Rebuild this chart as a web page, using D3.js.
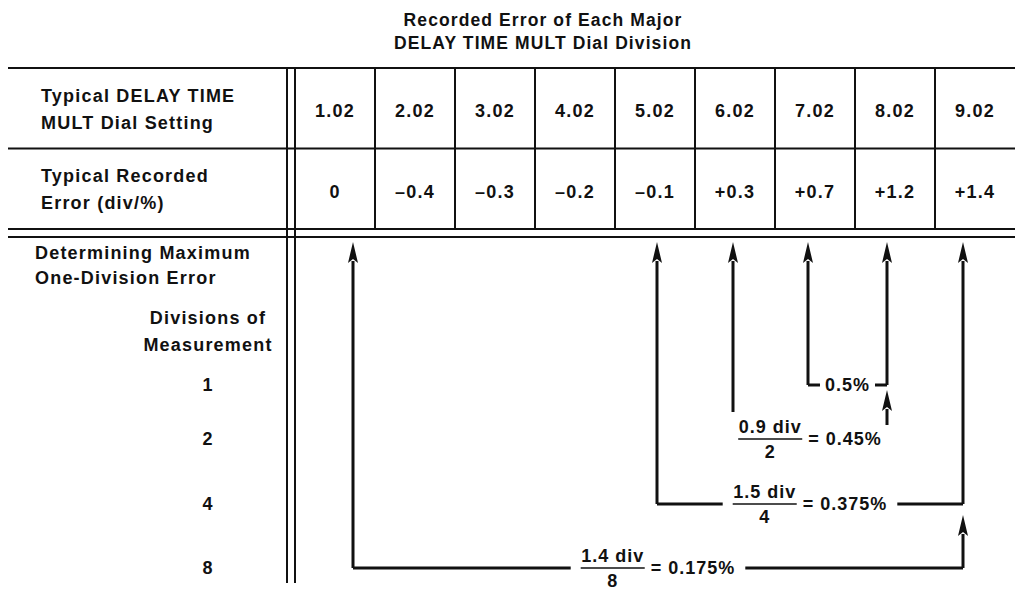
<!DOCTYPE html>
<html lang="en">
<head>
<meta charset="UTF-8">
<title>Recorded Error of Each Major DELAY TIME MULT Dial Division</title>
<style>
    body {
        margin: 0;
        background: #fff;
    }
    svg {
        display: block;
        font-family: "Liberation Sans", Arial, sans-serif;
        font-weight: bold;
    }
    text {
        fill: #111;
    }
    .title {
        font-size: 17.5px;
        letter-spacing: 1.1px;
    }
    .label {
        font-size: 18px;
        letter-spacing: 1.2px;
    }
    .cell {
        font-size: 18px;
        letter-spacing: 1.2px;
    }
    .note {
        font-size: 18px;
        letter-spacing: 1px;
    }
    .rule {
        stroke: #111;
        stroke-width: 2;
    }
    .shaft {
        stroke: #111;
        stroke-width: 3;
        fill: none;
    }
    .head {
        fill: #111;
    }
</style>
<script src="https://d3js.org/d3.v7.min.js"></script>
</head>
<body>
<svg id="chart" width="1017" height="593"></svg>
<script>
    const titleLines = ["Recorded Error of Each Major", "DELAY TIME MULT Dial Division"];
    const rowLabels = [
        ["Typical DELAY TIME", "MULT Dial Setting"],
        ["Typical Recorded", "Error (div/%)"]
    ];
    const sectionLabel = ["Determining Maximum", "One-Division Error"];
    const divisionsLabel = ["Divisions of", "Measurement"];

    const dialSettings = ["1.02", "2.02", "3.02", "4.02", "5.02", "6.02", "7.02", "8.02", "9.02"];
    const recordedErrors = [0, -0.4, -0.3, -0.2, -0.1, 0.3, 0.7, 1.2, 1.4];

    // one bracket per number of divisions: from one dial setting to another
    const divisions = [1, 2, 4, 8];
    const spanFrom = ["7.02", "6.02", "5.02", "1.02"];
    const spanTo = ["8.02", "8.02", "9.02", "9.02"];

    const svg = d3.select("#chart");

    const tblLeft = 8, tblRight = 1015, splitX = 287, gridLeft = 295;
    const tblTop = 68, rowsBottom = 229, lowerTop = 237, tblBottom = 583;

    const x = d3.scaleBand().domain(dialSettings).range([gridLeft, tblRight]);
    const y = d3.scaleBand().domain(["setting", "error"]).range([tblTop, rowsBottom]);
    const yDiv = d3.scaleOrdinal().domain(divisions).range([385, 439, 504, 568]);

    const errorOf = d3.scaleOrdinal().domain(dialSettings).range(recordedErrors);
    const fmtErr = v => v === 0 ? "0" : (v > 0 ? "+" : "\u2013") + Math.abs(v).toFixed(1);

    // arrows in the drawing sit a little off the column centres
    const nudge = {"1.02": 18, "5.02": 2, "6.02": -2, "7.02": -7, "8.02": -8, "9.02": -12};
    const ax = s => x(s) + x.bandwidth() / 2 + (nudge[s] || 0);

    // title
    svg.append("g").selectAll("text")
        .data(titleLines)
        .join("text")
        .attr("class", "title")
        .attr("x", 543)
        .attr("y", (d, i) => 20 + i * 23)
        .attr("dy", "0.35em")
        .attr("text-anchor", "middle")
        .text(d => d);

    // table rules
    const rules = svg.append("g");
    [tblTop, y("error"), rowsBottom, lowerTop].forEach(yy => {
        rules.append("line").attr("class", "rule")
            .attr("x1", tblLeft).attr("x2", tblRight).attr("y1", yy).attr("y2", yy);
    });
    [splitX, gridLeft].forEach(xx => {
        rules.append("line").attr("class", "rule")
            .attr("x1", xx).attr("x2", xx).attr("y1", tblTop).attr("y2", tblBottom);
    });
    dialSettings.slice(1).forEach(s => {
        rules.append("line").attr("class", "rule")
            .attr("x1", x(s)).attr("x2", x(s)).attr("y1", tblTop).attr("y2", rowsBottom);
    });

    // row labels
    rowLabels.forEach((lines, r) => {
        const cy = y(y.domain()[r]) + y.bandwidth() / 2;
        svg.append("g").selectAll("text")
            .data(lines)
            .join("text")
            .attr("class", "label")
            .attr("x", 41)
            .attr("y", (d, i) => cy - 13 + i * 27)
            .attr("dy", "0.35em")
            .text(d => d);
    });

    // cell values
    svg.append("g").selectAll("text")
        .data(dialSettings)
        .join("text")
        .attr("class", "cell")
        .attr("x", d => x(d) + x.bandwidth() / 2)
        .attr("y", y("setting") + y.bandwidth() / 2 + 2)
        .attr("dy", "0.35em")
        .attr("text-anchor", "middle")
        .text(d => d);

    svg.append("g").selectAll("text")
        .data(dialSettings)
        .join("text")
        .attr("class", "cell")
        .attr("x", d => x(d) + x.bandwidth() / 2)
        .attr("y", y("error") + y.bandwidth() / 2 + 3)
        .attr("dy", "0.35em")
        .attr("text-anchor", "middle")
        .text(d => fmtErr(errorOf(d)));

    // lower section labels
    svg.append("g").selectAll("text")
        .data(sectionLabel)
        .join("text")
        .attr("class", "label")
        .attr("x", 35)
        .attr("y", (d, i) => 253 + i * 25)
        .attr("dy", "0.35em")
        .text(d => d);

    svg.append("g").selectAll("text")
        .data(divisionsLabel)
        .join("text")
        .attr("class", "label")
        .attr("x", 208)
        .attr("y", (d, i) => 318 + i * 27)
        .attr("dy", "0.35em")
        .attr("text-anchor", "middle")
        .text(d => d);

    svg.append("g").selectAll("text")
        .data(divisions)
        .join("text")
        .attr("class", "label")
        .attr("x", 208)
        .attr("y", d => yDiv(d))
        .attr("dy", "0.35em")
        .attr("text-anchor", "middle")
        .text(d => d);

    // brackets
    const arrowTip = 242, headLen = 21, headHalf = 5;
    const marks = svg.append("g");

    function arrow(xx, yFrom, yTip) {
        marks.append("line").attr("class", "shaft")
            .attr("x1", xx).attr("x2", xx).attr("y1", yFrom).attr("y2", yTip + headLen - 2);
        marks.append("path").attr("class", "head")
            .attr("d", d3.line()([[xx, yTip], [xx - headHalf, yTip + headLen], [xx, yTip + headLen - 4], [xx + headHalf, yTip + headLen]]) + "Z");
    }

    const usedTop = {};
    divisions.forEach((n, i) => {
        const from = spanFrom[i], to = spanTo[i];
        const x0 = ax(from), x1 = ax(to), yy = yDiv(n);
        const errDiv = +(errorOf(to) - errorOf(from)).toFixed(2);
        const pct = +(errDiv / n).toFixed(3);

        // label: plain percentage or fraction = percentage
        const g = marks.append("g");
        let w;
        if (n === 1) {
            const t = g.append("text").attr("class", "note")
                .attr("dy", "0.35em").text(pct + "%");
            w = t.node().getComputedTextLength();
        } else {
            const num = g.append("text").attr("class", "note")
                .attr("y", -12).attr("dy", "0.35em").attr("text-anchor", "middle")
                .text(errDiv + " div");
            const fw = num.node().getComputedTextLength() + 1;
            num.attr("x", fw / 2);
            g.append("text").attr("class", "note")
                .attr("x", fw / 2).attr("y", 13).attr("dy", "0.35em").attr("text-anchor", "middle")
                .text(n);
            g.append("line").attr("class", "rule").style("stroke-width", 1.6)
                .attr("x1", 0).attr("x2", fw).attr("y1", 0).attr("y2", 0);
            const eq = g.append("text").attr("class", "note")
                .attr("x", fw + 6).attr("dy", "0.35em")
                .text("= " + pct + "%");
            w = fw + 6 + eq.node().getComputedTextLength();
        }
        const lx = (x0 + x1) / 2 - w / 2;
        g.attr("transform", `translate(${lx},${yy})`);

        const gap = n === 1 ? 5 : 10;
        const roomy = (x1 - x0) - w > 2 * gap + 8;
        const yEnd = roomy ? yy : yy - 27;

        // left arrow from the table down to this row
        arrow(x0, yEnd, arrowTip);

        if (roomy) {
            marks.append("path").attr("class", "shaft")
                .attr("d", d3.line()([[x0, yy], [lx - gap, yy]]));
            marks.append("path").attr("class", "shaft")
                .attr("d", d3.line()([[lx + w + gap, yy], [x1, yy]]));
        }

        // right arrow: full to the table, or short up to the bracket above
        if (usedTop[to] !== undefined) {
            arrow(x1, roomy ? yy : yy - 14, usedTop[to] + (roomy ? 11 : 5));
        } else {
            arrow(x1, yy, arrowTip);
            usedTop[to] = yy;
        }
    });
</script>
</body>
</html>
